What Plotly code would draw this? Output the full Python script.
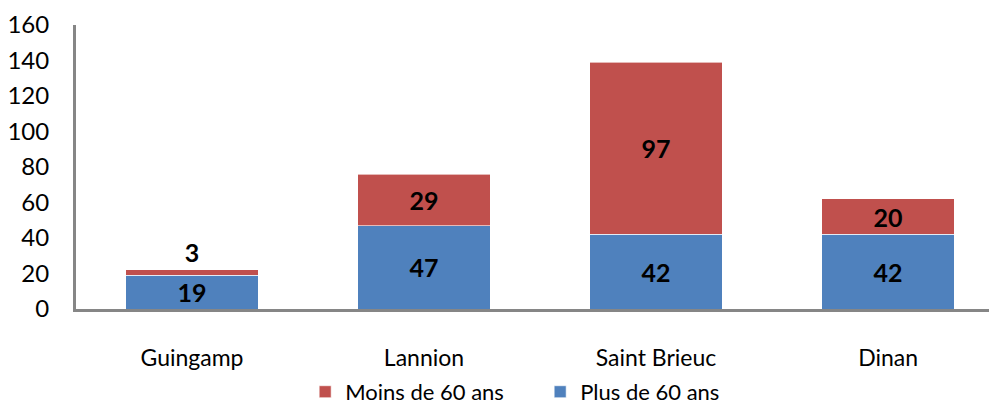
import plotly.graph_objects as go

categories = ["Guingamp", "Lannion", "Saint Brieuc", "Dinan"]
plus_60 = [19, 47, 42, 42]
moins_60 = [3, 29, 97, 20]
y_ticks = [0, 20, 40, 60, 80, 100, 120, 140, 160]

FONT = "Lato"
LABEL_FONT = dict(family=FONT, size=25, color="black", weight="bold")

fig = go.Figure()
fig.add_trace(go.Bar(
    x=categories, y=plus_60, name="Plus de 60 ans",
    marker=dict(color="#4F81BD", line=dict(color="rgba(255,255,255,0.6)", width=1)),
    text=[str(v) for v in plus_60], textposition="inside", insidetextanchor="middle",
    textfont=LABEL_FONT, insidetextfont=LABEL_FONT,
    textangle=0, constraintext="none",
    width=0.57,
))
fig.add_trace(go.Bar(
    x=categories, y=moins_60, name="Moins de 60 ans",
    marker=dict(color="#C0504D", line=dict(color="rgba(255,255,255,0.6)", width=1)),
    text=[str(v) for v in moins_60],
    textposition=["outside", "inside", "inside", "inside"], insidetextanchor="middle",
    textfont=LABEL_FONT, outsidetextfont=LABEL_FONT, insidetextfont=LABEL_FONT,
    textangle=0, constraintext="none",
    width=0.57, cliponaxis=False,
))

fig.update_layout(
    barmode="stack",
    width=989, height=407,
    margin=dict(l=76, r=0, t=25, b=98, autoexpand=False),
    plot_bgcolor="white", paper_bgcolor="white",
    font=dict(family=FONT, size=24, color="black"),
    legend=dict(
        orientation="h", traceorder="reversed",
        x=0.251, xanchor="left", y=-0.292, yanchor="middle",
        font=dict(family=FONT, size=22, color="black"),
        itemwidth=30, entrywidth=190,
    ),
    xaxis=dict(
        range=[-0.5, 3.435], showline=True, linecolor="#868686", linewidth=3,
        ticks="outside", ticklen=26, tickcolor="rgba(0,0,0,0)",
        tickfont=dict(family=FONT, size=23), automargin=False,
    ),
    yaxis=dict(
        range=[0, 160], tickvals=y_ticks, showgrid=False, zeroline=False,
        showline=True, linecolor="#868686", linewidth=3,
        ticks="outside", ticklen=19, tickcolor="rgba(0,0,0,0)",
        tickfont=dict(family=FONT, size=24), automargin=False,
    ),
)

fig.write_html(
    "out.html",
    config={"displayModeBar": False},
    post_script="document.body.style.margin='0';document.body.style.padding='0';",
)
